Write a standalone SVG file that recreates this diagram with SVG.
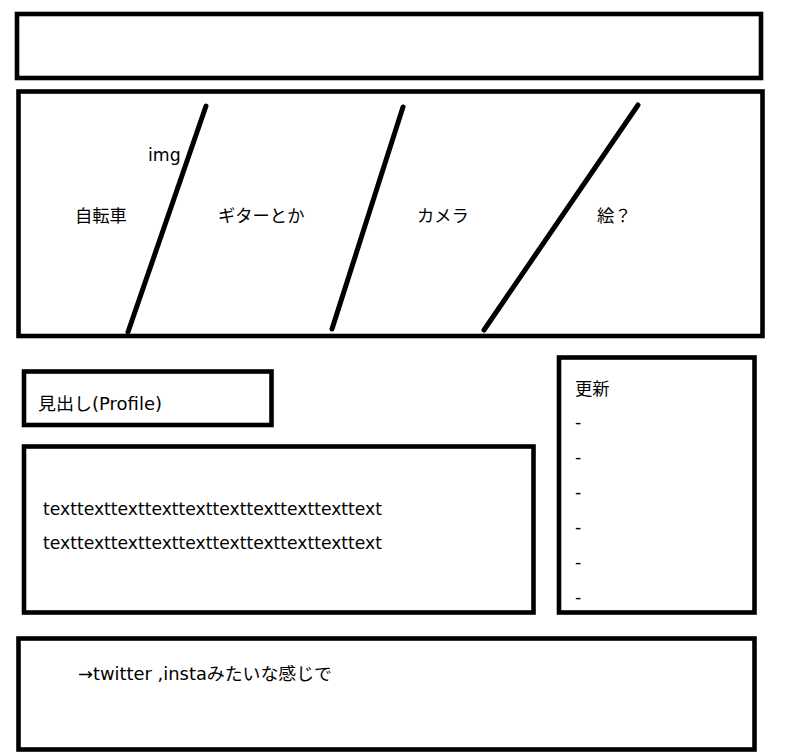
<svg xmlns="http://www.w3.org/2000/svg" width="787" height="756" viewBox="0 0 787 756">
<style>
.box{fill:#fff;stroke:#000;stroke-width:4.6}
.ln{stroke:#000;stroke-width:5;stroke-linecap:round;fill:none}
text{font-family:"DejaVu Sans","Noto Sans CJK JP",sans-serif;font-size:17.3px;fill:#000}
</style>
<rect width="787" height="756" fill="#fff"/>
<g id="header"><rect class="box" x="17" y="14" width="744" height="64"/></g>
<g id="hero">
<rect class="box" x="18.5" y="91.5" width="744" height="244.5"/>
<text x="148" y="161">img</text>
<text x="75" y="222">自転車</text>
<text x="218" y="222">ギターとか</text>
<text x="417" y="222">カメラ</text>
<text x="597" y="222">絵？</text>
</g>
<g id="dividers">
<line class="ln" x1="206" y1="106" x2="128" y2="332"/>
<line class="ln" x1="403" y1="107" x2="332" y2="329"/>
<line class="ln" x1="638" y1="105" x2="484" y2="330"/>
</g>
<g id="heading"><rect class="box" x="24" y="371.5" width="247.5" height="53.5"/>
<text x="38" y="410" textLength="124" lengthAdjust="spacingAndGlyphs">見出し(Profile)</text></g>
<g id="body"><rect class="box" x="24" y="446.5" width="509.5" height="166"/>
<text x="43" y="515" textLength="339" lengthAdjust="spacingAndGlyphs">texttexttexttexttexttexttexttexttexttext</text>
<text x="43" y="549" textLength="339" lengthAdjust="spacingAndGlyphs">texttexttexttexttexttexttexttexttexttext</text></g>
<g id="updates"><rect class="box" x="559" y="357.5" width="195.5" height="255"/>
<text x="575" y="395">更新</text>
<text x="575" y="428">-</text>
<text x="575" y="463">-</text>
<text x="575" y="498">-</text>
<text x="575" y="533">-</text>
<text x="575" y="568">-</text>
<text x="575" y="603">-</text></g>
<g id="footer"><rect class="box" x="18.5" y="638.5" width="736" height="111"/>
<text x="78" y="680" textLength="254" lengthAdjust="spacingAndGlyphs">→twitter ,instaみたいな感じで</text></g>
</svg>
